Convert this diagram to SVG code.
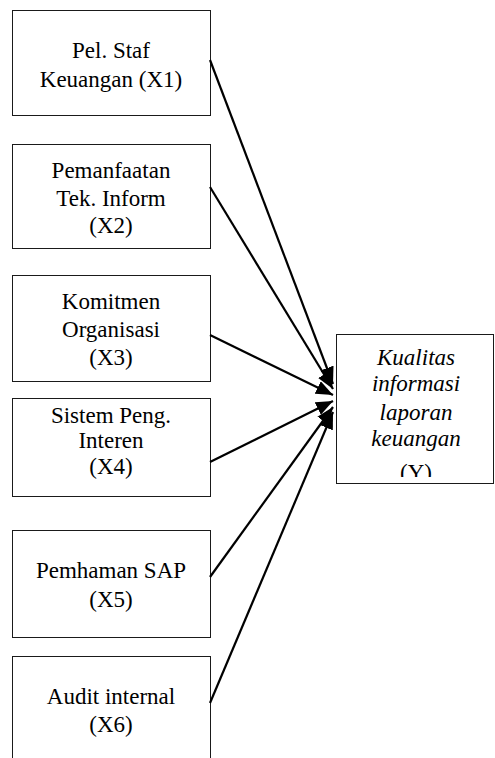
<svg xmlns="http://www.w3.org/2000/svg" width="495" height="758" viewBox="0 0 495 758">
<style>
.box{fill:#fff;stroke:#1a1a1a;stroke-width:1}
.t{font-family:'Liberation Serif',Tinos,'Times New Roman','DejaVu Serif',serif;font-size:23px;fill:#000;text-anchor:middle}
.i{font-style:italic}
.c{stroke:#000;stroke-width:2.2;fill:none}
</style>
<defs>
<marker id="ah" markerUnits="userSpaceOnUse" markerWidth="18" markerHeight="14" refX="17" refY="7" orient="auto">
<path d="M0,0 L17,7 L0,14 z" fill="#000"/>
</marker>
<clipPath id="yclip"><rect x="336" y="334" width="157" height="143"/></clipPath>
</defs>
<rect width="495" height="758" fill="#fff"/>
<g id="X1">
<rect class="box" x="12.5" y="10.5" width="198" height="105"/>
<text class="t" x="111" y="58">Pel. Staf</text>
<text class="t" x="111" y="87">Keuangan (X1)</text>
</g>
<g id="X2">
<rect class="box" x="12.5" y="144.5" width="198" height="104"/>
<text class="t" x="111" y="178">Pemanfaatan</text>
<text class="t" x="111" y="206">Tek. Inform</text>
<text class="t" x="111" y="233">(X2)</text>
</g>
<g id="X3">
<rect class="box" x="12.5" y="275.5" width="198" height="106"/>
<text class="t" x="111" y="309">Komitmen</text>
<text class="t" x="111" y="337">Organisasi</text>
<text class="t" x="111" y="365">(X3)</text>
</g>
<g id="X4">
<rect class="box" x="12.5" y="398.5" width="198" height="98"/>
<text class="t" x="111" y="423">Sistem Peng.</text>
<text class="t" x="111" y="448">Interen</text>
<text class="t" x="111" y="474">(X4)</text>
</g>
<g id="X5">
<rect class="box" x="12.5" y="530.5" width="198" height="107"/>
<text class="t" x="111" y="578">Pemhaman SAP</text>
<text class="t" x="111" y="607">(X5)</text>
</g>
<g id="X6">
<rect class="box" x="12.5" y="656.5" width="198" height="120"/>
<text class="t" x="111" y="704">Audit internal</text>
<text class="t" x="111" y="732">(X6)</text>
</g>
<g id="Y">
<rect class="box" x="336.5" y="334.5" width="157" height="149"/>
<text class="t i" x="416" y="365">Kualitas</text>
<text class="t i" x="416" y="391">informasi</text>
<text class="t i" x="416" y="420">laporan</text>
<text class="t i" x="416" y="446">keuangan</text>
<text class="t" x="416" y="480" clip-path="url(#yclip)">(Y)</text>
</g>
<g id="connectors">
<line class="c" x1="210" y1="60" x2="333" y2="384" marker-end="url(#ah)"/>
<line class="c" x1="210" y1="187" x2="333" y2="389" marker-end="url(#ah)"/>
<line class="c" x1="210" y1="335" x2="333" y2="395" marker-end="url(#ah)"/>
<line class="c" x1="210" y1="462" x2="333" y2="401" marker-end="url(#ah)"/>
<line class="c" x1="210" y1="577" x2="333" y2="407" marker-end="url(#ah)"/>
<line class="c" x1="210" y1="703" x2="333" y2="412" marker-end="url(#ah)"/>
</g>
</svg>
